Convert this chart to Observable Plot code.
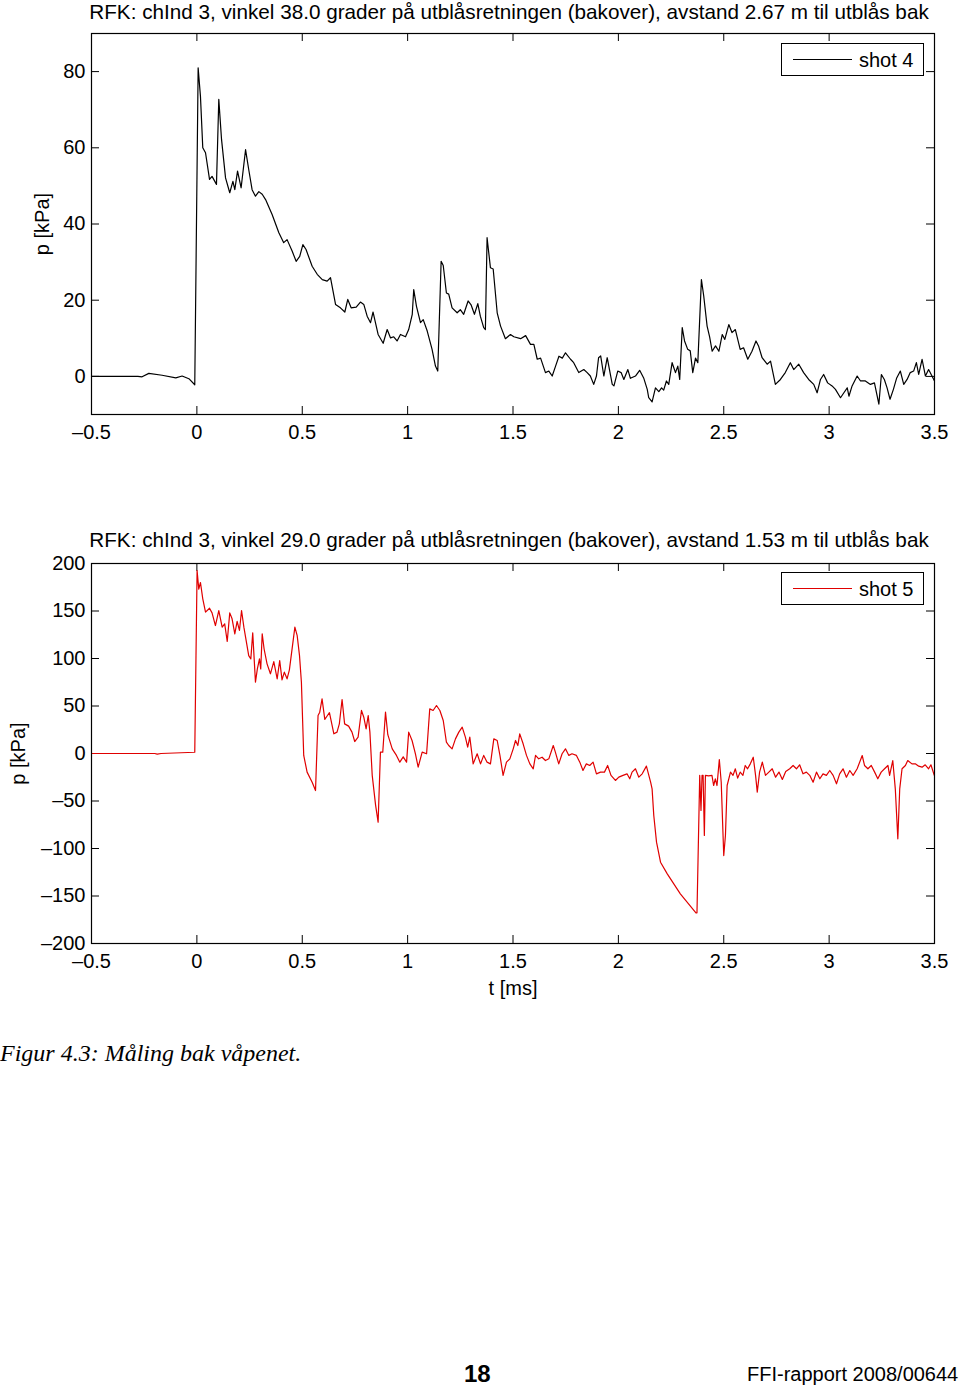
<!DOCTYPE html>
<html><head><meta charset="utf-8">
<script src="https://cdn.jsdelivr.net/npm/d3@7"></script>
<script src="https://cdn.jsdelivr.net/npm/@observablehq/plot@0.6"></script>
<style>
body{margin:0;background:#fff;font-family:"Liberation Sans",Arial,sans-serif;}
#page{position:relative;width:960px;height:1389px;overflow:hidden;background:#fff;}
.panel{position:absolute;left:0;}
.legend{position:absolute;left:781px;width:143px;height:33px;box-sizing:border-box;border:1px solid #000;background:#fff;}
.legend .ln{position:absolute;left:11px;top:15px;width:59px;height:0;border-top:1.3px solid #000;}
.legend .lb{position:absolute;left:77px;top:3px;font-size:20px;line-height:26px;color:#000;}
#caption{position:absolute;left:0;top:1039px;font-family:"Liberation Serif","Times New Roman",serif;font-style:italic;font-size:24px;line-height:28px;color:#000;white-space:nowrap;}
#pageno{position:absolute;left:464px;top:1360px;font-weight:bold;font-size:24px;line-height:28px;color:#000;}
#report{position:absolute;left:747px;top:1361px;font-size:20px;line-height:26px;color:#000;white-space:nowrap;}
</style></head>
<body>
<div id="page">
  <div id="top" class="panel" style="top:0px"></div>
  <div id="bottom" class="panel" style="top:530px"></div>
  <div class="legend" style="top:43px"><div class="ln"></div><div class="lb">shot 4</div></div>
  <div class="legend" style="top:572px"><div class="ln" style="border-top-color:#e00000"></div><div class="lb">shot 5</div></div>
  <div id="caption">Figur 4.3: Måling bak våpenet.</div>
  <div id="pageno">18</div>
  <div id="report">FFI-rapport 2008/00644</div>
</div>
<script>
// Tick values
const xTicks = [-0.5, 0, 0.5, 1, 1.5, 2, 2.5, 3, 3.5];
const yTicksTop = [0, 20, 40, 60, 80];
const yTicksBottom = [-200, -150, -100, -50, 0, 50, 100, 150, 200];

// Titles
const titleTop = "RFK: chInd 3, vinkel 38.0 grader på utblåsretningen (bakover), avstand 2.67 m til utblås bak";
const titleBottom = "RFK: chInd 3, vinkel 29.0 grader på utblåsretningen (bakover), avstand 1.53 m til utblås bak";
const yLabel = "p [kPa]";
const xLabel = "t [ms]";

// shot 4: time [ms]
const t4 = [-0.5,-0.28,-0.26,-0.228,-0.165,-0.10,-0.07,-0.038,-0.01,0.006,0.017,0.028,0.041,0.06,0.072,0.093,0.104,0.117,0.136,0.156,0.171,0.18,0.193,0.21,0.231,0.246,0.262,0.278,0.294,0.31,0.326,0.357,0.389,0.412,0.428,0.452,0.471,0.488,0.503,0.518,0.547,0.571,0.595,0.618,0.634,0.658,0.681,0.702,0.716,0.732,0.756,0.776,0.792,0.808,0.824,0.836,0.86,0.884,0.903,0.919,0.934,0.95,0.966,0.99,1.005,1.022,1.029,1.042,1.061,1.074,1.093,1.116,1.132,1.143,1.159,1.169,1.184,1.195,1.211,1.235,1.25,1.266,1.287,1.301,1.317,1.333,1.345,1.361,1.369,1.377,1.393,1.406,1.425,1.441,1.464,1.488,1.504,1.536,1.56,1.583,1.599,1.615,1.631,1.654,1.67,1.686,1.702,1.718,1.734,1.749,1.773,1.788,1.812,1.836,1.852,1.867,1.883,1.896,1.906,1.916,1.931,1.947,1.971,1.979,1.997,2.013,2.026,2.045,2.057,2.081,2.101,2.12,2.137,2.144,2.16,2.176,2.192,2.205,2.215,2.228,2.239,2.255,2.271,2.282,2.291,2.303,2.314,2.329,2.341,2.353,2.366,2.377,2.394,2.405,2.421,2.433,2.445,2.461,2.477,2.493,2.505,2.524,2.539,2.555,2.578,2.594,2.614,2.634,2.653,2.665,2.682,2.706,2.722,2.745,2.769,2.792,2.816,2.832,2.856,2.879,2.903,2.927,2.943,2.959,2.974,2.993,3.014,3.03,3.054,3.07,3.086,3.094,3.109,3.133,3.149,3.172,3.196,3.215,3.236,3.248,3.262,3.275,3.289,3.305,3.32,3.338,3.354,3.37,3.385,3.401,3.414,3.425,3.441,3.457,3.472,3.488,3.5];
// shot 4: pressure [kPa]
const p4 = [0,0,-0.1,0.8,0.3,-0.4,0.1,-0.6,-2.2,81,73.5,60,58.7,51.7,52.5,50.4,72.7,62.2,52.1,48.2,51.2,49,53.9,49.5,59.5,54.3,49,47.3,48.5,47.8,46.4,42.5,37.7,35.1,35.9,32.9,30.2,31.5,34.6,33.3,28.9,26.8,25.4,25,25.9,18.9,18,16.9,20.2,18,18.2,19.5,18.9,15.8,14.1,16.9,11,8.7,12.3,10.1,10.4,9.3,11,10.4,12.3,16.3,22.8,18.4,14.1,14.9,11.9,7.1,2.7,1.4,30.2,29.1,21.9,21.6,18,16.7,17.5,16.3,19.8,18.8,16.3,19.1,15.8,12.8,12.3,36.4,28.5,28.2,16.7,13.2,9.9,11,10.4,9.9,10.7,8.4,8.4,4.5,4.8,1,1.4,0.1,2.7,5.3,4.8,6.2,4.5,3.6,1,1.8,1,0.1,-2.1,0.1,4.9,5.4,0.1,4.9,-2.1,-2.5,1.4,1,-0.8,1.8,-0.5,0.1,1.6,-0.4,-3.4,-5.6,-6.7,-3,-4,-3,-3.6,-1.2,-2.1,3.6,1,2.7,-0.8,12.8,9.3,7.1,6.7,1,4.8,3.6,25.4,21.1,13.2,10.4,6.6,8,6.6,11,9.7,13.6,11.5,12.3,7.1,7.5,4.5,6.6,9.3,8,4.9,3.2,4,-2.1,-0.8,1,3.6,1.8,3.2,1,-0.8,-2.1,-4.3,-0.8,0.5,-1.7,-2.5,-3.4,-5.6,-4.3,-3,-5.2,-2.5,0.1,-1.2,-1.2,-2.1,-1.7,-7.3,0.5,-0.8,-3,-6,-3.4,-0.5,1.4,-2.1,-0.8,1,1.4,3.6,0.5,4.5,0.1,1.8,0.1,-1.2];

// shot 5: time [ms]
const t5 = [-0.5,-0.2,-0.188,-0.17,-0.01,0.001,0.009,0.017,0.028,0.041,0.06,0.072,0.088,0.104,0.12,0.132,0.144,0.156,0.167,0.18,0.191,0.202,0.212,0.223,0.246,0.256,0.265,0.278,0.287,0.297,0.303,0.31,0.319,0.333,0.349,0.365,0.381,0.393,0.404,0.415,0.428,0.439,0.465,0.476,0.487,0.496,0.507,0.523,0.547,0.563,0.575,0.583,0.594,0.607,0.618,0.629,0.65,0.665,0.676,0.689,0.701,0.72,0.736,0.749,0.765,0.781,0.792,0.803,0.813,0.821,0.832,0.848,0.86,0.871,0.882,0.895,0.906,0.927,0.947,0.963,0.979,0.995,1.005,1.021,1.037,1.05,1.069,1.09,1.105,1.121,1.137,1.153,1.169,1.184,1.195,1.211,1.227,1.243,1.259,1.274,1.285,1.295,1.311,1.33,1.346,1.361,1.377,1.393,1.409,1.425,1.438,1.453,1.469,1.485,1.501,1.512,1.523,1.532,1.548,1.564,1.58,1.596,1.607,1.622,1.638,1.654,1.67,1.691,1.701,1.717,1.733,1.749,1.765,1.78,1.801,1.817,1.832,1.848,1.864,1.88,1.896,1.915,1.934,1.949,1.965,1.986,2.002,2.022,2.041,2.054,2.065,2.081,2.097,2.113,2.133,2.153,2.16,2.168,2.181,2.2,2.232,2.263,2.294,2.368,2.373,2.386,2.392,2.397,2.402,2.408,2.413,2.428,2.444,2.452,2.46,2.468,2.479,2.488,2.5,2.508,2.516,2.532,2.544,2.555,2.566,2.578,2.591,2.602,2.613,2.626,2.64,2.651,2.659,2.67,2.683,2.698,2.714,2.73,2.746,2.762,2.778,2.794,2.813,2.829,2.845,2.86,2.876,2.892,2.908,2.924,2.94,2.956,2.971,2.987,3.003,3.019,3.035,3.05,3.066,3.082,3.098,3.114,3.133,3.157,3.168,3.184,3.2,3.216,3.231,3.247,3.263,3.279,3.287,3.302,3.314,3.326,3.335,3.346,3.362,3.373,3.393,3.409,3.425,3.441,3.456,3.472,3.483,3.499];
// shot 5: pressure [kPa]
const p5 = [0,0,-0.6,0,1.3,192.6,173,180,162.8,148.8,152.9,148,134.7,150.5,133,136.5,117.9,148,141.8,126,139,129.5,150.5,133,103,99.6,127,75.1,89,99.6,89,126,110,94.4,83.9,96.8,78.6,97.9,77.5,85.6,78.6,88.1,133,124,103,75,-2,-19.6,-30.2,-39,40,43.5,57.5,36,39.5,43,20.7,22.5,31.2,56.8,31.2,28.8,22.5,12.6,17.2,45.3,38.2,26,40,22.5,-23,-54.4,-72.3,1.4,1.4,43.5,19.8,4.9,-2,-9.1,-3.5,-9.1,22.5,13.7,-0.3,-14.4,1.4,-0.3,47,45.3,50.5,45.3,34.7,11.9,8.4,4.9,15.4,22.5,27.7,17.2,6.7,17.2,-10.9,-0.3,-10.9,-2,-9.1,-10.9,15.4,13.7,-2,-23,-9.1,-5.6,4.9,13.7,8.4,20.7,10.2,-2,-10.9,-16.1,-2,-5.6,-3.9,-7.4,-5.6,8.4,1.4,-10.9,-0.3,4.9,-2,-0.3,-2,-9.1,-17.9,-10.9,-12.6,-9.1,-21.4,-19.6,-19.6,-12.6,-23,-28.4,-24.9,-23,-21.4,-26.6,-19.6,-16.1,-24.9,-21.4,-13.3,-30.2,-37.2,-65.3,-93.3,-114.4,-126.7,-137.2,-147.7,-167.7,-167.7,-23,-60,-23,-23,-86.3,-23,-23.5,-23,-33.7,-26.7,-33.7,-6.3,-30.2,-107.4,-86.3,-33.7,-19.6,-23,-16.1,-25.9,-19.6,-23,-12.6,-16.1,-10.9,-3.9,-23,-40.7,-19.6,-9.1,-23,-19.6,-16.1,-24.9,-19.6,-27.3,-18.9,-16.1,-12.6,-16.1,-11.9,-21.4,-19.6,-23,-30.2,-19.6,-26.6,-21.4,-23,-17.9,-23,-31.9,-21.4,-16.1,-24.9,-17.9,-23,-16.1,-2.1,-12.6,-16.1,-12.6,-19.6,-26.6,-19.6,-16.1,-12.6,-23,-7.4,-37.2,-89.8,-37.2,-16.1,-12.6,-7.4,-10.9,-10.9,-13.3,-14.4,-11.9,-16.1,-11.9,-23];

const fmt = d => (d < 0 ? "\u2013" + Math.abs(d) : String(d));
const FONT = '"Liberation Sans", Arial, Helvetica, sans-serif';

function panel({t, p, color, yDomain, yTicks, title, titleDy, height, marginBottom, yLabelDx, withXLabel}) {
  const W = 960, mL = 91, mR = 26, mT = 33;
  const plotW = W - mL - mR;
  const plotH = height - mT - marginBottom;
  const data = t.map((x, i) => ({t: x, p: p[i]}));
  const marks = [
    Plot.tickX(xTicks, {x: d => d, insetBottom: plotH - 8, stroke: "#000", strokeWidth: 1}),
    Plot.tickX(xTicks, {x: d => d, insetTop: plotH - 8, stroke: "#000", strokeWidth: 1}),
    Plot.tickY(yTicks, {y: d => d, insetRight: plotW - 8, stroke: "#000", strokeWidth: 1}),
    Plot.tickY(yTicks, {y: d => d, insetLeft: plotW - 8, stroke: "#000", strokeWidth: 1}),
    Plot.line(data, {x: "t", y: "p", stroke: color, strokeWidth: 1.2}),
    Plot.frame({stroke: "#000", strokeWidth: 1.2}),
    Plot.text([title], {text: d => d, frameAnchor: "top", dx: -4, dy: titleDy, lineAnchor: "middle", textAnchor: "middle", fontSize: 20.7, fill: "#000"}),
    Plot.text([yLabel], {text: d => d, frameAnchor: "left", dx: yLabelDx, rotate: -90, textAnchor: "middle", lineAnchor: "middle", fontSize: 20, fill: "#000"})
  ];
  if (withXLabel) {
    marks.push(Plot.text([xLabel], {text: d => d, frameAnchor: "bottom", dy: 45, lineAnchor: "middle", textAnchor: "middle", fontSize: 20, fill: "#000"}));
  }
  return Plot.plot({
    width: W, height, marginLeft: mL, marginRight: mR, marginTop: mT, marginBottom,
    style: {fontFamily: FONT, fontSize: "20px", color: "#000", background: "transparent", overflow: "visible"},
    x: {domain: [-0.5, 3.5], ticks: xTicks, tickFormat: fmt, tickSize: 0, tickPadding: 10, label: null},
    y: {domain: yDomain, ticks: yTicks, tickFormat: fmt, tickSize: 0, tickPadding: 6, label: null},
    marks
  });
}

document.getElementById("top").appendChild(panel({
  t: t4, p: p4, color: "#000", yDomain: [-10, 90], yTicks: yTicksTop, title: titleTop, titleDy: -21.5,
  height: 460, marginBottom: 46, yLabelDx: -49, withXLabel: false
}));
document.getElementById("bottom").appendChild(panel({
  t: t5, p: p5, color: "#e00000", yDomain: [-200, 200], yTicks: yTicksBottom, title: titleBottom, titleDy: -23,
  height: 473, marginBottom: 60, yLabelDx: -73, withXLabel: true
}));
</script>
</body></html>
